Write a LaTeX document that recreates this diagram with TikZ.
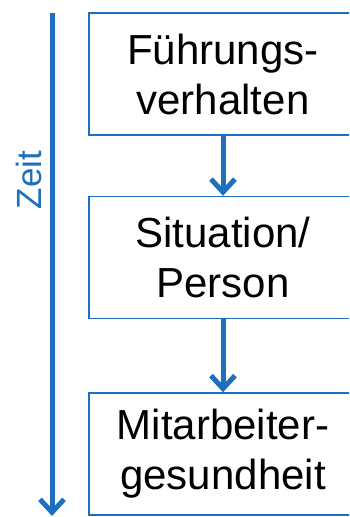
\documentclass[tikz,border=0pt]{standalone}
\usepackage{fontspec}
\setmainfont{Liberation Sans}
\usetikzlibrary{arrows.meta}
\definecolor{myblue}{RGB}{30,112,190}
\begin{document}
\begin{tikzpicture}[x=1pt,y=-1pt,
  box/.style={draw=myblue,line width=1.4pt,minimum width=268pt,minimum height=122pt,
    align=center,font=\fontsize{42}{50}\selectfont,inner sep=0pt,fill=white},
  flow/.style={draw=myblue,line width=5pt,-{Straight Barb[length=13pt,width=24pt,line width=5pt]}}]
\useasboundingbox (0,0) rectangle (349,517);
\begin{scope}
\clip (0,0) rectangle (349,517);
\node[box] (b1) at (223,74) {Führungs-\\verhalten};
\node[box] (b2) at (223,257.5) {Situation/\\Person};
\node[box] (b3) at (223,454) {Mitarbeiter-\\gesundheit};
\end{scope}
\coordinate (t0) at (52,13);
\coordinate (t1) at (52,516);
\draw[flow] (t0) -- (t1);
\node[rotate=90,text=myblue,font=\fontsize{35}{40}\selectfont,inner sep=0pt] (zeit) at (29,180) {Zeit};
\draw[flow] (b1.south) -- (b2.north);
\draw[flow] (b2.south) -- (b3.north);
\end{tikzpicture}
\end{document}
